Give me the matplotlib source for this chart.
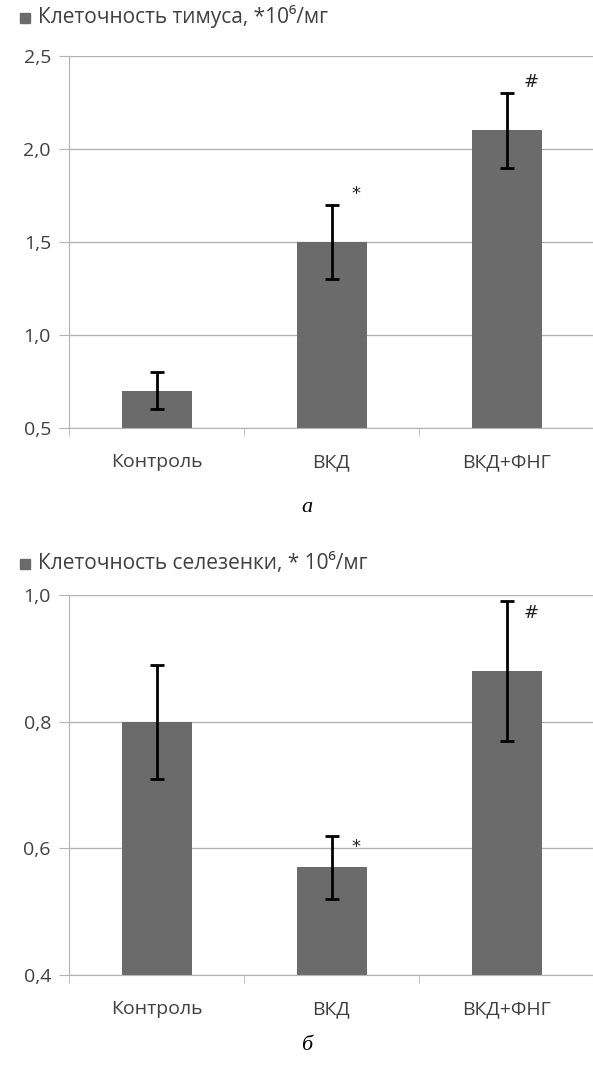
import matplotlib
matplotlib.use("Agg")
import matplotlib.pyplot as plt
from matplotlib.patches import Rectangle
import numpy as np

plt.rcParams['font.family'] = ['Open Sans', 'DejaVu Sans']

categories = ['Контроль', 'ВКД', 'ВКД+ФНГ']

thymus_values = [0.70, 1.50, 2.10]
thymus_errors = [0.10, 0.20, 0.20]
thymus_marks = ['', '*', '#']
thymus_label = 'Клеточность тимуса, *10⁶/мг'
thymus_ticks = [0.5, 1.0, 1.5, 2.0, 2.5]

spleen_values = [0.80, 0.57, 0.88]
spleen_errors = [0.09, 0.05, 0.11]
spleen_marks = ['', '*', '#']
spleen_label = 'Клеточность селезенки, * 10⁶/мг'
spleen_ticks = [0.4, 0.6, 0.8, 1.0]

BAR_COLOR = '#6b6b6b'
GRID_COLOR = '#b4b4b4'
TEXT_COLOR = '#404040'

W, H = 593, 1073
fig = plt.figure(figsize=(W / 100, H / 100), dpi=100)


def px_axes(left, top, right, bottom):
    return fig.add_axes([left / W, 1 - bottom / H, (right - left) / W, (bottom - top) / H])


def draw_panel(ax, values, errors, marks, ticks, label, label_y, mark_dx, mark_dy):
    x = np.arange(len(categories))
    ax.bar(x, values, width=0.4, color=BAR_COLOR, zorder=2)
    ax.errorbar(x, values, yerr=errors, fmt='none', ecolor='black',
                elinewidth=2, capsize=5, capthick=2, zorder=3)
    for xi, v, e, m in zip(x, values, errors, marks):
        if m:
            ax.text(xi + mark_dx, v + e + mark_dy, m, ha='center', va='center',
                    fontsize=13, color='#202020', family='DejaVu Sans')

    ax.set_xlim(-0.5, len(categories) - 0.5)
    ax.set_ylim(ticks[0], ticks[-1])
    ax.set_yticks(ticks)
    ax.set_yticklabels([f'{t:.1f}'.replace('.', ',') for t in ticks],
                       fontsize=14, color=TEXT_COLOR)
    ax.yaxis.grid(True, color=GRID_COLOR, linewidth=1, zorder=0)
    ax.set_axisbelow(True)

    ax.set_xticks(x)
    ax.set_xticklabels(categories, fontsize=14, color=TEXT_COLOR)
    ax.tick_params(axis='x', which='major', length=0, pad=18)
    ax.set_xticks(np.arange(-0.5, len(categories)), minor=True)
    ax.tick_params(axis='x', which='minor', length=6, color=GRID_COLOR, direction='out')
    ax.tick_params(axis='y', length=7, color=GRID_COLOR, pad=6)

    for side in ['top', 'right']:
        ax.spines[side].set_visible(False)
    ax.spines['left'].set_color(GRID_COLOR)
    ax.spines['bottom'].set_color(GRID_COLOR)

    # legend entry: grey square plus series name
    fig.patches.append(Rectangle((20 / W, 1 - (label_y + 5) / H), 10 / W, 10 / H,
                                 transform=fig.transFigure, color=BAR_COLOR))
    fig.text(38 / W, 1 - (label_y - 1) / H, label, fontsize=15,
             color=TEXT_COLOR, ha='left', va='center')


ax1 = px_axes(69, 56, 594, 428)
draw_panel(ax1, thymus_values, thymus_errors, thymus_marks, thymus_ticks,
           thymus_label, 18, 0.14, 0.06)

ax2 = px_axes(69, 595, 594, 975)
draw_panel(ax2, spleen_values, spleen_errors, spleen_marks, spleen_ticks,
           spleen_label, 564, 0.14, -0.018)

fig.text(307 / W, 1 - 508 / H, 'а', fontsize=16, style='italic',
         family='Liberation Serif', ha='center', va='center', color='black')
fig.text(307 / W, 1 - 1045 / H, 'б', fontsize=16, style='italic',
         family='Liberation Serif', ha='center', va='center', color='black')

fig.savefig('out.png', dpi=100)
